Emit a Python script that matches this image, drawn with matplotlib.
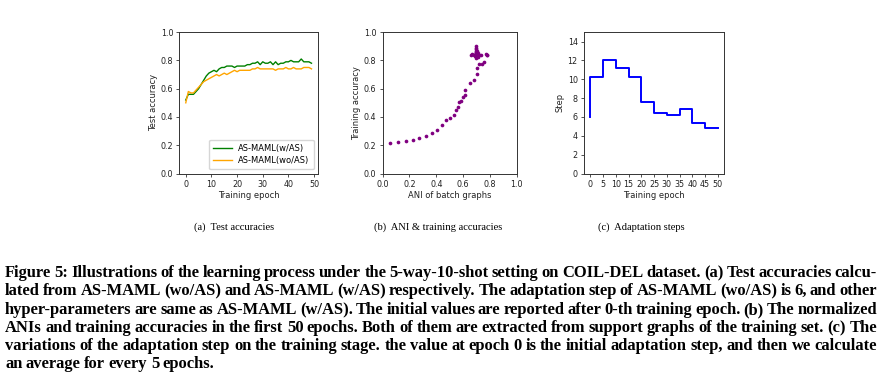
import matplotlib
matplotlib.use("Agg")
import matplotlib.pyplot as plt
import numpy as np

# (a) test accuracies, epochs 0..49
epochs = np.arange(50)
acc_w_as = [0.52, 0.56, 0.56, 0.56, 0.58, 0.60, 0.63, 0.66, 0.69, 0.71,
            0.72, 0.73, 0.72, 0.74, 0.75, 0.75, 0.76, 0.76, 0.76, 0.75,
            0.76, 0.76, 0.76, 0.76, 0.77, 0.77, 0.78, 0.78, 0.79, 0.77,
            0.79, 0.78, 0.78, 0.79, 0.77, 0.79, 0.77, 0.78, 0.78, 0.79,
            0.79, 0.80, 0.79, 0.79, 0.79, 0.81, 0.79, 0.79, 0.79, 0.78]
acc_wo_as = [0.50, 0.58, 0.57, 0.57, 0.59, 0.61, 0.63, 0.65, 0.66, 0.67,
             0.68, 0.69, 0.70, 0.69, 0.70, 0.71, 0.70, 0.71, 0.72, 0.73,
             0.72, 0.73, 0.73, 0.73, 0.73, 0.73, 0.74, 0.74, 0.75, 0.74,
             0.74, 0.74, 0.74, 0.74, 0.74, 0.73, 0.74, 0.74, 0.74, 0.75,
             0.74, 0.74, 0.75, 0.74, 0.74, 0.74, 0.75, 0.75, 0.75, 0.74]

# (b) ANI vs training accuracy (50 epochs)
ani = [0.055, 0.117, 0.172, 0.224, 0.274, 0.323, 0.366, 0.403, 0.440, 0.473,
       0.502, 0.532, 0.545, 0.562, 0.572, 0.582, 0.602, 0.614, 0.617, 0.652,
       0.682, 0.706, 0.701, 0.721, 0.739, 0.756,
       0.700, 0.700, 0.700, 0.700, 0.700, 0.700, 0.700, 0.700, 0.710, 0.690,
       0.680, 0.670, 0.660, 0.710, 0.720, 0.730, 0.705, 0.695, 0.715, 0.690,
       0.700, 0.770, 0.780, 0.775]
train_acc = [0.216, 0.221, 0.228, 0.235, 0.249, 0.265, 0.284, 0.307, 0.340, 0.380,
             0.394, 0.411, 0.446, 0.469, 0.509, 0.512, 0.538, 0.556, 0.592, 0.641,
             0.660, 0.707, 0.749, 0.772, 0.777, 0.791,
             0.900, 0.890, 0.880, 0.870, 0.860, 0.850, 0.840, 0.830, 0.825, 0.840,
             0.840, 0.845, 0.840, 0.840, 0.835, 0.840, 0.870, 0.855, 0.850, 0.830,
             0.815, 0.845, 0.835, 0.840]

# (c) adaptation steps
step_x = [0, 0, 5, 10, 15, 20, 25, 30, 35, 40, 45, 50]
step_y = [6.0, 10.2, 12.0, 11.2, 10.2, 7.6, 6.4, 6.2, 6.8, 5.4, 4.8, 4.8]

subcaps = ["(a)  Test accuracies", "(b)  ANI & training accuracies", "(c)  Adaptation steps"]
caption_lines = [
    "Figure 5: Illustrations of the learning process under the 5-way-10-shot setting on COIL-DEL dataset. (a) Test accuracies calcu-",
    "lated from AS-MAML (wo/AS) and AS-MAML (w/AS) respectively. The adaptation step of AS-MAML (wo/AS) is 6, and other",
    "hyper-parameters are same as AS-MAML (w/AS). The initial values are reported after 0-th training epoch. (b) The normalized",
    "ANIs and training accuracies in the first 50 epochs. Both of them are extracted from support graphs of the training set. (c) The",
    "variations of the adaptation step on the training stage. the value at epoch 0 is the initial adaptation step, and then we calculate",
    "an average for every 5 epochs.",
]

plt.rcParams['font.size'] = 6
plt.rcParams['axes.linewidth'] = 0.7
plt.rcParams['axes.edgecolor'] = '#333333'
for a in ('xtick', 'ytick'):
    plt.rcParams[a + '.major.size'] = 2.5
    plt.rcParams[a + '.major.width'] = 0.6
    plt.rcParams[a + '.color'] = '#333333'
    plt.rcParams[a + '.labelcolor'] = '#222222'
    plt.rcParams[a + '.major.pad'] = 2

fig = plt.figure(figsize=(8.82, 3.78), dpi=100)
bottom, height = 0.541, 0.374

ax1 = fig.add_axes([0.2035, bottom, 0.1568, height])
ax1.plot(epochs, acc_w_as, color='green', lw=1.0, label='AS-MAML(w/AS)')
ax1.plot(epochs, acc_wo_as, color='orange', lw=1.0, label='AS-MAML(wo/AS)')
ax1.set_ylim(0, 1.0)
ax1.set_xticks([0, 10, 20, 30, 40, 50])
ax1.set_xlabel('Training epoch', labelpad=1.5)
ax1.set_ylabel('Test accuracy', labelpad=2)
ax1.legend(loc='lower right', fontsize=6, handlelength=2.2, borderpad=0.5,
           labelspacing=0.4, fancybox=True, edgecolor='#cccccc')

ax2 = fig.add_axes([0.4339, bottom, 0.1519, height])
ax2.scatter(ani, train_acc, s=7, color='purple', linewidths=0)
ax2.set_xlim(0, 1.0)
ax2.set_ylim(0, 1.0)
ax2.set_xlabel('ANI of batch graphs', labelpad=1.5)
ax2.set_ylabel('Training accuracy', labelpad=2)

ax3 = fig.add_axes([0.6621, bottom, 0.159, height])
ax3.plot(step_x, step_y, drawstyle='steps-post', color='blue', lw=1.4)
ax3.set_ylim(0, 15)
ax3.set_yticks(range(0, 15, 2))
ax3.set_xticks(range(0, 51, 5))
ax3.set_xlabel('Training epoch', labelpad=1.5)
ax3.set_ylabel('Step', labelpad=2)

for ax in (ax1, ax2, ax3):
    ax.tick_params(labelsize=5.8)
    ax.xaxis.label.set_size(6)
    ax.yaxis.label.set_size(6)
    ax.xaxis.label.set_color('#222222')
    ax.yaxis.label.set_color('#222222')

# sub-captions
for xc, t in zip([234, 438, 641], subcaps):
    fig.text(xc / 882, 1 - 230 / 378, t, ha='center', va='baseline',
             family='Liberation Serif', fontsize=7.6)

# main caption, justified word by word, one font size for all lines
renderer = fig.canvas.get_renderer()
x_left, x_right = 5, 877
baselines = [277, 295, 314, 332, 350, 368]
cap_style = dict(family='Liberation Serif', weight='bold', va='baseline', ha='left')

def word_widths(words, fs):
    out = []
    for w in words:
        t = fig.text(0, 0, w, fontsize=fs, **cap_style)
        out.append(t.get_window_extent(renderer).width)
        t.remove()
    return out

fs = 12.4
while fs > 8:
    ok = True
    for line in caption_lines[:-1]:
        words = line.split(' ')
        if x_right - x_left - sum(word_widths(words, fs)) < 2.8 * (len(words) - 1):
            ok = False
            break
    if ok:
        break
    fs -= 0.1

for i, (line, yy) in enumerate(zip(caption_lines, baselines)):
    words = line.split(' ')
    widths = word_widths(words, fs)
    if i < len(caption_lines) - 1:
        gap = (x_right - x_left - sum(widths)) / (len(words) - 1)
    else:
        gap = 3.5
    x = x_left
    for w, wd in zip(words, widths):
        fig.text(x / 882, 1 - yy / 378, w, fontsize=fs, **cap_style)
        x += wd + gap

fig.savefig('out.png', dpi=100)
